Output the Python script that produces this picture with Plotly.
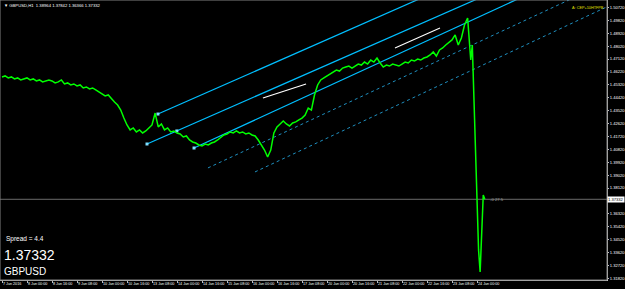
import plotly.graph_objects as go

# ---------------- data ----------------
# bar index (H1 bars from 7 Jun 2016 08:00, weekends skipped)
bar_idx = list(range(0, 300, 2)) + [300, 301, 302, 303, 304, 305, 306, 307, 308, 309]
close_px = [
    1.4587, 1.4594, 1.4580, 1.4587, 1.4573, 1.4580, 1.4566, 1.4573,
    1.4580, 1.4566, 1.4573, 1.4559, 1.4566, 1.4552, 1.4559, 1.4566,
    1.4559, 1.4545, 1.4552, 1.4566, 1.4538, 1.4545, 1.4531, 1.4538,
    1.4524, 1.4531, 1.4510, 1.4517, 1.4503, 1.4510, 1.4496, 1.4482,
    1.4468, 1.4454, 1.4461, 1.4433, 1.4412, 1.4391, 1.4356, 1.4300,
    1.4252, 1.4217, 1.4231, 1.4203, 1.4217, 1.4196, 1.4210, 1.4231,
    1.4252, 1.4335, 1.4238, 1.4259, 1.4217, 1.4231, 1.4203, 1.4210,
    1.4196, 1.4189, 1.4168, 1.4175, 1.4147, 1.4133, 1.4126, 1.4112,
    1.4105, 1.4119, 1.4112, 1.4126, 1.4133, 1.4147, 1.4168, 1.4182,
    1.4189, 1.4203, 1.4196, 1.4210, 1.4196, 1.4203, 1.4189, 1.4196,
    1.4182, 1.4175, 1.4147, 1.4112, 1.4077, 1.4028, 1.4077, 1.4196,
    1.4238, 1.4259, 1.4280, 1.4259, 1.4245, 1.4266, 1.4273, 1.4287,
    1.4300, 1.4321, 1.4370, 1.4356, 1.4461, 1.4531, 1.4566, 1.4580,
    1.4594, 1.4607, 1.4621, 1.4635, 1.4628, 1.4649, 1.4656, 1.4663,
    1.4649, 1.4663, 1.4677, 1.4670, 1.4691, 1.4677, 1.4705, 1.4691,
    1.4719, 1.4684, 1.4656, 1.4670, 1.4663, 1.4677, 1.4670, 1.4663,
    1.4677, 1.4691, 1.4684, 1.4705, 1.4698, 1.4712, 1.4705, 1.4719,
    1.4726, 1.4740, 1.4761, 1.4733, 1.4775, 1.4789, 1.4810, 1.4831,
    1.4845, 1.4880, 1.4810, 1.4859, 1.4949, 1.4998,
    1.4705, 1.4810, 1.4461, 1.4007, 1.3624, 1.3380, 1.3226, 1.3554, 1.3763, 1.37332,
]
current_price = 1.37332

date_tick_idx = list(range(0, 305, 16))
date_tick_text = [
    "7 Jun 2016", "8 Jun 00:00", "8 Jun 16:00", "9 Jun 08:00", "10 Jun 00:00",
    "10 Jun 16:00", "13 Jun 08:00", "14 Jun 00:00", "14 Jun 16:00", "15 Jun 08:00",
    "16 Jun 00:00", "16 Jun 16:00", "17 Jun 08:00", "20 Jun 00:00", "20 Jun 16:00",
    "21 Jun 08:00", "22 Jun 00:00", "22 Jun 16:00", "23 Jun 08:00", "24 Jun 00:00",
]
price_ticks = [1.50720 - 0.009 * k for k in range(22) if k != 15]

# channel / trend line anchors: (bar idx, price) pairs
solid_x1 = [99.8, 92.8, 122.9]
solid_p1 = [1.4328, 1.4119, 1.4091]
solid_x2 = [265.6, 302.7, 323.2]
solid_p2 = [1.5124, 1.5124, 1.5096]
dot_x1 = [131.8, 161.9]
dot_p1 = [1.3952, 1.3924]
dot_x2 = [318.7, 318.7]
dot_p2 = [1.4900, 1.4726]
anchor_x = [99.8, 111.9, 92.8, 122.9]
anchor_p = [1.4328, 1.4210, 1.4119, 1.4091]
white_x1 = [167.0, 251.5]
white_p1 = [1.4440, 1.4789]
white_x2 = [194.6, 280.3]
white_p2 = [1.4538, 1.4928]

X_END = 390
fig = go.Figure()

def ray(x1, p1, x2, p2):
    s = (p2 - p1) / (x2 - x1)
    return [x1, X_END], [p1, p1 + s * (X_END - x1)]

for i in range(len(solid_x1)):
    xs, ps = ray(solid_x1[i], solid_p1[i], solid_x2[i], solid_p2[i])
    fig.add_trace(go.Scatter(x=xs, y=ps, mode="lines",
                             line=dict(color="#00bfff", width=1.2), hoverinfo="skip"))
for i in range(len(dot_x1)):
    xs, ps = ray(dot_x1[i], dot_p1[i], dot_x2[i], dot_p2[i])
    fig.add_trace(go.Scatter(x=xs, y=ps, mode="lines",
                             line=dict(color="#1f8fbf", width=1, dash="dot"), hoverinfo="skip"))
for i in range(len(white_x1)):
    fig.add_trace(go.Scatter(x=[white_x1[i], white_x2[i]], y=[white_p1[i], white_p2[i]],
                             mode="lines", line=dict(color="#ffffff", width=1.2), hoverinfo="skip"))
fig.add_trace(go.Scatter(x=anchor_x, y=anchor_p, mode="markers",
                         marker=dict(symbol="square", size=3, color="#7fdfff"), hoverinfo="skip"))

# current price line
fig.add_trace(go.Scatter(x=[-5, X_END + 10], y=[current_price, current_price], mode="lines",
                         line=dict(color="#6a6a6a", width=1), hoverinfo="skip"))

# price series
fig.add_trace(go.Scatter(x=bar_idx, y=close_px, mode="lines",
                         line=dict(color="#00ff00", width=1.5), hoverinfo="skip"))

FONT = "Liberation Sans"
fig.update_layout(
    width=625, height=289,
    margin=dict(l=0, r=18, t=0, b=9, autoexpand=False),
    paper_bgcolor="#000000", plot_bgcolor="#000000",
    showlegend=False,
    font=dict(family=FONT, color="#ffffff", size=5),
    xaxis=dict(range=[-1.28, 387.2], tickvals=date_tick_idx, ticktext=date_tick_text,
               ticks="outside", ticklen=2, tickcolor="#c0c0c0", tickangle=0,
               ticklabelposition="outside right", automargin=False,
               tickfont=dict(size=3.7, color="#ffffff", family=FONT),
               showgrid=False, zeroline=False, showline=True, linecolor="#c0c0c0",
               linewidth=1, mirror=False),
    yaxis=dict(range=[1.31701, 1.51237], side="right", tickvals=price_ticks,
               tickformat=".5f", ticks="outside", ticklen=1, tickcolor="#c0c0c0",
               automargin=False,
               tickfont=dict(size=4.1, color="#ffffff", family=FONT),
               showgrid=False, zeroline=False, showline=True, linecolor="#c0c0c0",
               linewidth=1),
)

ann = [
    dict(xref="paper", yref="paper", x=0.004, y=0.995, xanchor="left", yanchor="top",
         text="\u25bc GBPUSD,H1  1.38964 1.37842 1.36366 1.37332", showarrow=False,
         font=dict(size=4.2, color="#ffffff", family=FONT)),
    dict(xref="paper", yref="paper", x=0.998, y=0.985, xanchor="right", yanchor="top",
         text="A: CEP+10HTFPB", showarrow=False,
         font=dict(size=3.8, color="#e0e000", family=FONT)),
    dict(xref="paper", yref="y", x=1.0, y=current_price, xanchor="left", yanchor="middle",
         text="1.37332", showarrow=False, bgcolor="#ffffff", borderpad=0,
         font=dict(size=4.1, color="#000000", family=FONT)),
    dict(xref="x", yref="y", x=311, y=current_price, xanchor="left", yanchor="middle",
         text="-0 27.5", showarrow=False, font=dict(size=4.2, color="#a0a0a0", family=FONT)),
    dict(xref="paper", yref="paper", x=0.006, y=0.145, xanchor="left", yanchor="middle",
         text="Spread = 4.4", showarrow=False, font=dict(size=6.5, color="#ffffff", family=FONT)),
    dict(xref="paper", yref="paper", x=0.004, y=0.09, xanchor="left", yanchor="middle",
         text="1.37332", showarrow=False, font=dict(size=14, color="#ffffff", family=FONT)),
    dict(xref="paper", yref="paper", x=0.004, y=0.03, xanchor="left", yanchor="middle",
         text="GBPUSD", showarrow=False, font=dict(size=10, color="#ffffff", family=FONT)),
]
fig.update_layout(annotations=ann)
fig.update_layout(shapes=[dict(type="rect", xref="paper", yref="paper", x0=0, x1=1, y0=0, y1=1,
                               line=dict(color="#808080", width=1), layer="above")])

fig.write_html("out.html")
